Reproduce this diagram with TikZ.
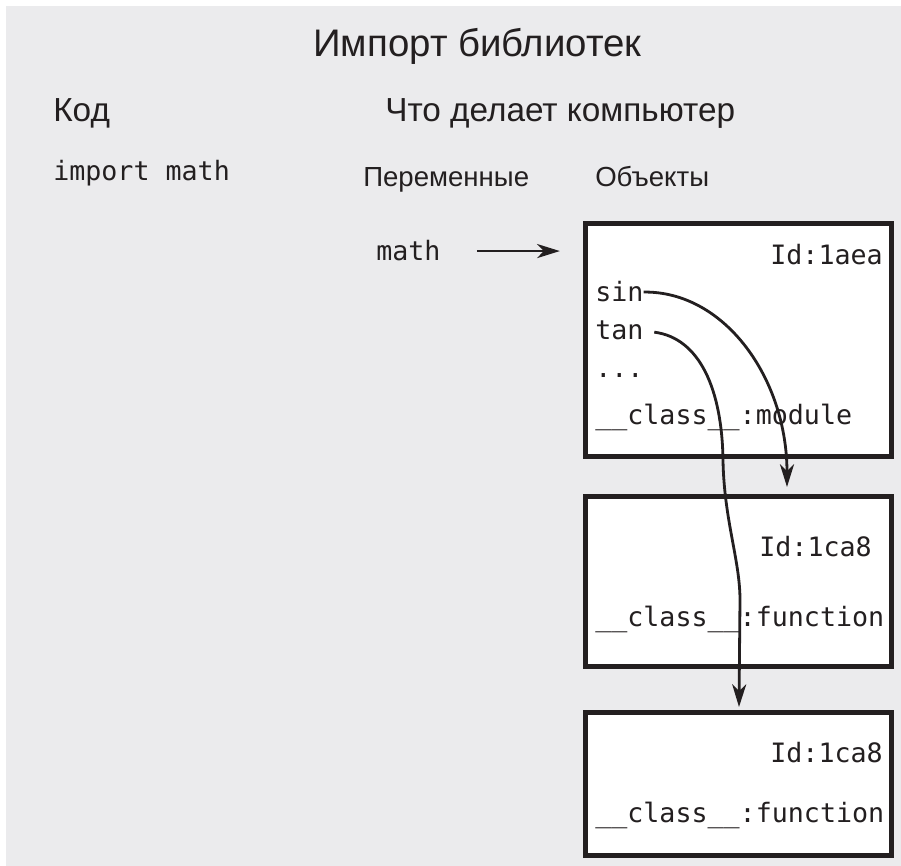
\documentclass[tikz,border=0pt]{standalone}
\usepackage{fontspec}
\setmainfont{Liberation Sans}
\setmonofont{DejaVu Sans Mono}
\usetikzlibrary{arrows.meta}
\definecolor{bgcol}{RGB}{235,235,237}
\definecolor{ink}{RGB}{35,31,32}

\begin{document}
\begin{tikzpicture}[x=0.75pt, y=-0.75pt, color=ink,
  every node/.style={inner sep=0pt, anchor=base west},
  headtxt/.style={font=\fontsize{28.8}{32}\selectfont},
  bigtxt/.style={font=\fontsize{25}{29}\selectfont},
  smalltxt/.style={font=\fontsize{20.7}{24}\selectfont},
  code/.style={font=\ttfamily\fontsize{20}{24}\selectfont},
  objbox/.style={draw, line width=3.75pt, fill=white, anchor=center, minimum width=229.5pt},
  link/.style={line width=2.1pt, -{Stealth[length=17pt, width=10.5pt, inset=5pt]}}]
  \useasboundingbox (0,0) rectangle (901,866);
  \fill[bgcol] (6,6) rectangle (901,866);
  % headings
  \node (title) [headtxt] at (313,57) {Импорт библиотек};
  \node (codehd) [bigtxt] at (53,122) {Код};
  \node (comphd) [bigtxt] at (385,122) {Что делает компьютер};
  \node (imp) [code] at (53,181) {import math};
  \node (varhd) [smalltxt] at (363,187) {Переменные};
  \node (objhd) [smalltxt] at (595,187) {Объекты};
  % objects
  \node (objA) [objbox, minimum height=174.75pt] at (738,340.5) {};
  \node (objB) [objbox, minimum height=126.75pt] at (738,581.5) {};
  \node (objC) [objbox, minimum height=107.25pt] at (738,783.5) {};
  \node (idA) [code, anchor=base east] at (883,265) {Id:1aea};
  \node (sinw) [code] at (595,302) {sin};
  \node (tanw) [code] at (595,340) {tan};
  \node (dots) [code] at (595,378) {...};
  \node (clsA) [code] at (595,425) {\_\_class\_\_:module};
  \node (idB) [code, anchor=base east] at (872,557) {Id:1ca8};
  \node (clsB) [code] at (595,627) {\_\_class\_\_:function};
  \node (idC) [code, anchor=base east] at (883,762) {Id:1ca8};
  \node (clsC) [code] at (595,822) {\_\_class\_\_:function};
  % variable
  \node (mathvar) [code] at (376,261) {math};
  \coordinate (sinend) at (787,487);
  \coordinate (tanend) at (739,707);
  \draw[link, shorten <=27pt, shorten >=17pt] (mathvar.east) -- (objA.west |- mathvar.east);
  \draw[link] (sinw.east) .. controls (725,291) and (787,379) .. (sinend);
  \draw[link, shorten <=8pt] (tanw.east) .. controls (700,338) and (722,390) .. (723,460)
    .. controls (724,520) and (740,560) .. (740,600) -- (tanend);
\end{tikzpicture}
\end{document}
